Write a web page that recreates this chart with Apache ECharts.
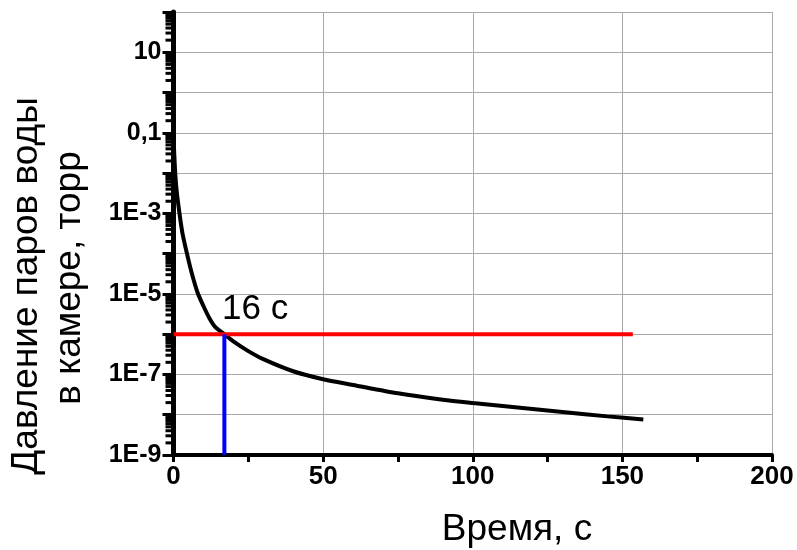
<!DOCTYPE html>
<html>
<head>
<meta charset="utf-8">
<script src="https://cdn.jsdelivr.net/npm/echarts@6/dist/echarts.min.js"></script>
<style>html,body{margin:0;padding:0;background:#fff}#c{width:797px;height:550px}</style>
</head>
<body>
<div id="c"></div>
<script>
// ---- data ----
const times = [0, 0.5, 1, 2, 3, 4.5, 6, 8, 10, 12, 14, 17, 20, 25, 30, 40, 50, 60, 75, 90, 100, 115, 130, 145, 157];
const pressures = [0.079, 0.0126, 0.004, 0.001, 3.2e-4, 1.0e-4, 3.5e-5, 1.1e-5, 5.0e-6, 2.5e-6, 1.5e-6, 1.0e-6, 6.6e-7, 3.8e-7, 2.4e-7, 1.2e-7, 7.6e-8, 5.5e-8, 3.4e-8, 2.35e-8, 1.95e-8, 1.51e-8, 1.17e-8, 9.1e-9, 7.6e-9];
const redLineTimes = [0, 153.5];
const redLinePressure = 1e-6;
const blueLineTime = 17;
const blueLinePressures = [1e-9, 1e-6];
const annotationText = '16 с';
const annotationTime = 16.2;
const annotationPressure = 4.2e-6;
const xTickValues = [0, 50, 100, 150, 200];
const yLabelValues = [1e-9, 1e-7, 1e-5, 1e-3, 0.1, 10];
const yLabelTexts = ['1E-9', '1E-7', '1E-5', '1E-3', '0,1', '10'];
const yDecadeExponents = [-9, -8, -7, -6, -5, -4, -3, -2, -1, 0, 1];
const yMinorMultipliers = [2, 3, 4, 5, 6, 7, 8, 9];
const xTitle = 'Время, с';
const yTitle1 = 'Давление паров воды';
const yTitle2 = 'в камере, торр';

// ---- build ----
const FONT = "'Liberation Sans', Arial, sans-serif";
const curve = times.map((t, i) => [t, pressures[i]]);
const minorTicks = [];
yDecadeExponents.forEach(e => yMinorMultipliers.forEach(m => minorTicks.push([0, m * Math.pow(10, e)])));

const chart = echarts.init(document.getElementById('c'), null, {renderer: 'canvas'});
chart.setOption({
  animation: false,
  backgroundColor: '#fff',
  grid: {left: 173.5, right: 25, top: 12, bottom: 95, containLabel: false},
  xAxis: {
    type: 'value', min: xTickValues[0], max: xTickValues[xTickValues.length - 1], interval: 50,
    axisLine: {show: true, lineStyle: {color: '#000', width: 4}},
    axisTick: {show: true, inside: false, length: 7, lineStyle: {color: '#000', width: 3}},
    minorTick: {show: true, splitNumber: 2, length: 7, lineStyle: {color: '#000', width: 3}},
    axisLabel: {color: '#000', fontFamily: FONT, fontWeight: 'bold', fontSize: 26, margin: 9},
    splitLine: {show: true, lineStyle: {color: '#a8a8a8', width: 1}}
  },
  yAxis: {
    type: 'log', logBase: 10, min: 1e-9, max: 100, interval: 1, splitNumber: 11,
    axisLine: {show: true, lineStyle: {color: '#000', width: 5}},
    axisTick: {show: true, inside: false, length: 11, lineStyle: {color: '#000', width: 3}},
    axisLabel: {
      color: '#000', fontFamily: FONT, fontWeight: 'bold', fontSize: 25, margin: 12, interval: 0,
      formatter: function (v) {
        for (let i = 0; i < yLabelValues.length; i++) {
          if (Math.abs(Math.log10(v) - Math.log10(yLabelValues[i])) < 1e-6) return yLabelTexts[i];
        }
        return '';
      }
    },
    splitLine: {show: true, lineStyle: {color: '#a8a8a8', width: 1}}
  },
  graphic: [
    {type: 'text', x: 517, y: 530, style: {text: xTitle, font: '37px ' + FONT, fill: '#000', textAlign: 'center', textVerticalAlign: 'middle'}},
    {type: 'text', x: 27, y: 286, rotation: Math.PI / 2, style: {text: yTitle1, font: '37px ' + FONT, fill: '#000', textAlign: 'center', textVerticalAlign: 'middle'}},
    {type: 'text', x: 70, y: 278, rotation: Math.PI / 2, style: {text: yTitle2, font: '37px ' + FONT, fill: '#000', textAlign: 'center', textVerticalAlign: 'middle'}}
  ],
  series: [
    {
      type: 'custom', data: minorTicks, clip: false, silent: true, z: 5,
      renderItem: function (params, api) {
        const p = api.coord([api.value(0), api.value(1)]);
        return {type: 'line', shape: {x1: p[0] - 8, y1: p[1], x2: p[0], y2: p[1]}, style: {stroke: '#000', lineWidth: 3}};
      }
    },
    {
      type: 'line', data: curve, showSymbol: false, symbol: 'none', smooth: 0.25,
      lineStyle: {color: '#000', width: 4}, z: 3
    },
    {
      type: 'line', data: redLineTimes.map(t => [t, redLinePressure]), showSymbol: false, symbol: 'none',
      lineStyle: {color: '#ff0000', width: 4}, z: 4
    },
    {
      type: 'line', data: blueLinePressures.map(p => [blueLineTime, p]), showSymbol: false, symbol: 'none',
      lineStyle: {color: '#0000ff', width: 4}, z: 4
    },
    {
      type: 'scatter', data: [[annotationTime, annotationPressure]], symbolSize: 0, z: 6,
      itemStyle: {opacity: 1},
      label: {show: true, position: 'right', distance: 0, formatter: annotationText, color: '#000', opacity: 1, fontFamily: FONT, fontSize: 35}
    }
  ]
});
</script>
</body>
</html>
